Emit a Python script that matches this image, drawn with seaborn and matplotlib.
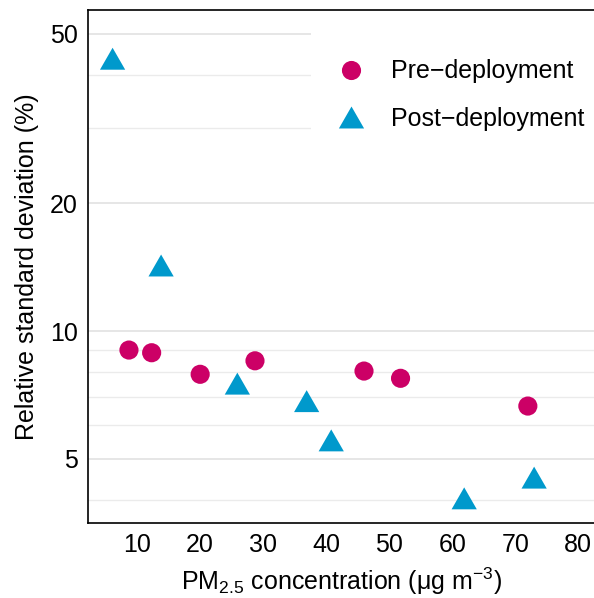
import matplotlib
matplotlib.use("Agg")
import matplotlib.pyplot as plt
from matplotlib.ticker import FixedLocator, NullFormatter, FixedFormatter
import seaborn as sns
import pandas as pd

# PM2.5 concentration (ug/m3) and relative standard deviation (%) per phase
pre_pm = [8.7, 12.3, 20.0, 28.7, 46.0, 51.8, 72.0]
pre_rsd = [9.02, 8.89, 7.91, 8.51, 8.05, 7.74, 6.66]
post_pm = [6.1, 13.8, 25.9, 36.9, 40.8, 61.9, 73.0]
post_rsd = [43.7, 14.26, 7.52, 6.84, 5.53, 4.04, 4.52]

phases = ["Pre\u2212deployment", "Post\u2212deployment"]
phase_colors = {phases[0]: "#CC0066", phases[1]: "#0099CC"}

y_major = [5, 10, 20, 50]
y_minor = [4, 6, 7, 8, 9, 30, 40]
x_ticks = [10, 20, 30, 40, 50, 60, 70, 80]

df = pd.DataFrame({
    "pm": pre_pm + post_pm,
    "rsd": pre_rsd + post_rsd,
    "phase": [phases[0]] * len(pre_pm) + [phases[1]] * len(post_pm),
})

FS = 18

sns.set_theme(style="white")
plt.rcParams["font.family"] = ["Liberation Sans", "DejaVu Sans"]
plt.rcParams["text.color"] = "black"
plt.rcParams["axes.labelcolor"] = "black"
plt.rcParams["mathtext.fontset"] = "custom"
plt.rcParams["mathtext.rm"] = "Liberation Sans"
plt.rcParams["mathtext.it"] = "Liberation Sans:italic"
plt.rcParams["mathtext.default"] = "regular"

# equilateral-looking triangle marker
tri = [(0, 0.87), (-1, -0.87), (1, -0.87), (0, 0.87)]

fig = plt.figure(figsize=(5.94, 5.98), dpi=100)
ax = fig.add_axes([88 / 594, 1 - 523 / 598, 1 - 88 / 594, (523 - 10) / 598])

sns.scatterplot(
    data=df, x="pm", y="rsd", hue="phase", style="phase", size="phase",
    hue_order=phases, style_order=phases, size_order=phases,
    palette=phase_colors,
    markers={phases[0]: "o", phases[1]: tri},
    sizes={phases[0]: 190, phases[1]: 330},
    linewidth=0, ax=ax, zorder=3, legend=True,
)

ax.set_yscale("log")
ax.set_ylim(3.535, 56.9)
ax.set_xlim(2.2, 82.5)

ax.yaxis.set_major_locator(FixedLocator(y_major))
ax.yaxis.set_major_formatter(FixedFormatter([str(v) for v in y_major]))
ax.yaxis.set_minor_locator(FixedLocator(y_minor))
ax.yaxis.set_minor_formatter(NullFormatter())
ax.set_xticks(x_ticks)
ax.set_xticklabels([str(v) for v in x_ticks])

ax.grid(False)
ax.grid(True, axis="y", which="major", color="#E6E6E6", linewidth=1.4, zorder=0)
ax.grid(True, axis="y", which="minor", color="#EBEBEB", linewidth=1.0, zorder=0)
ax.set_axisbelow(True)

for side in ["top", "left", "bottom"]:
    ax.spines[side].set_visible(True)
    ax.spines[side].set_color("black")
    ax.spines[side].set_linewidth(1.2)
ax.spines["right"].set_visible(False)

ax.tick_params(axis="both", which="major", direction="out", length=4.5, width=1.1,
               color="#333333", labelsize=FS, labelcolor="black", pad=3)
ax.tick_params(axis="y", which="minor", length=0)

ax.set_xlabel(r"PM$_{2.5}$ concentration ($\mu$g m$^{-3}$)", fontsize=FS, labelpad=6,
              color="black")
ax.set_ylabel("Relative standard deviation (%)", fontsize=FS, labelpad=8, color="black")

handles, labels = ax.get_legend_handles_labels()
leg = ax.legend(
    handles=handles, labels=labels, loc="upper left",
    bbox_to_anchor=((311 - 88) / 506, 1 - 10 / 513),
    frameon=True, facecolor="white", edgecolor="none", framealpha=1,
    fontsize=FS, borderpad=1.57, handlelength=0.05, handletextpad=1.58,
    labelspacing=0.95, borderaxespad=0, markerscale=1.0,
)
leg.get_frame().set_boxstyle("square", pad=0)
for t in leg.get_texts():
    t.set_color("black")

fig.savefig("out.png", dpi=100)
